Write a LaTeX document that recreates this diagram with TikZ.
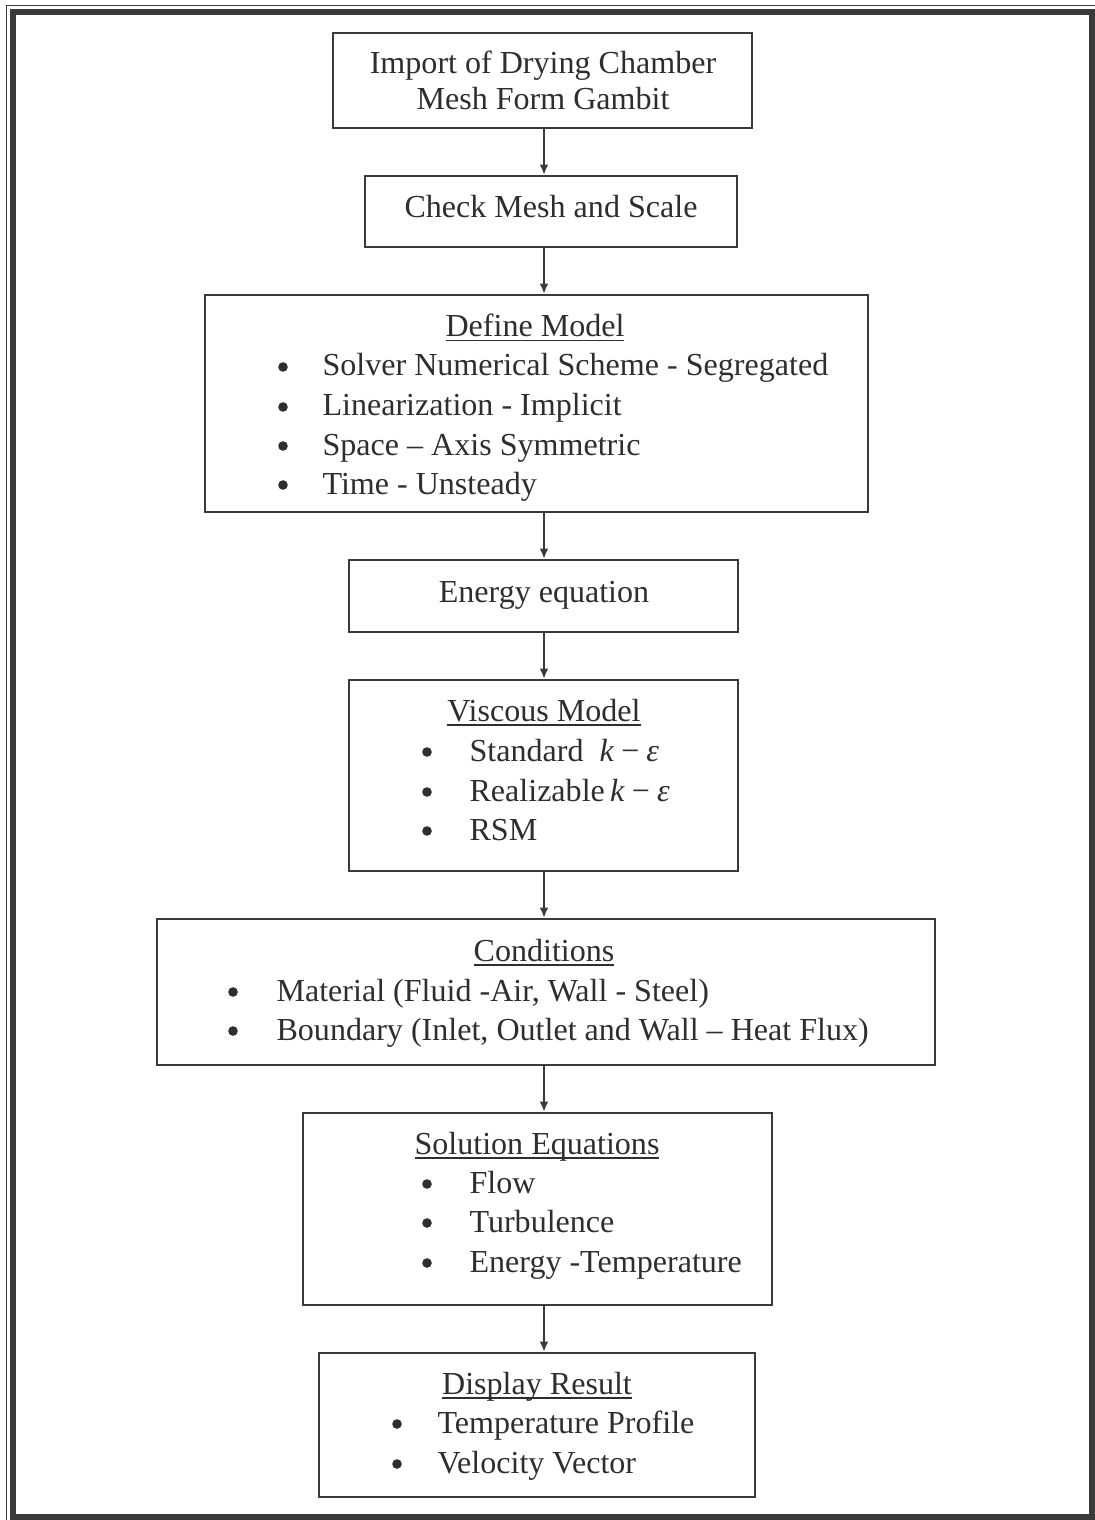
\documentclass[tikz,border=0pt]{standalone}
\usepackage{fontspec}
\setmainfont{Liberation Serif}
\usepackage{tikz}
\usetikzlibrary{fit,arrows.meta}

\definecolor{inchiostro}{HTML}{2E2E2E}
\definecolor{linea}{HTML}{3A3A3A}

% sottolineatura a profondita' fissa
\newcommand{\sottolinea}[1]{\setbox0\hbox{#1}\rlap{\rule[-1.6pt]{\wd0}{0.6pt}}\box0}
\newcommand{\keps}{\textit{k}\hspace{0.22em}\textminus\hspace{0.22em}\textit{ε}}

\begin{document}
\begin{tikzpicture}[x=0.0125cm, y=-0.0125cm,
  every node/.style={text=inchiostro, font=\fontsize{11.4}{13.7}\selectfont},
  box/.style={rectangle, draw=linea, line width=0.75pt, inner sep=0pt},
  titolo/.style={anchor=base},
  voce/.style={anchor=base west, inner sep=0pt},
  punto/.style={circle, fill=inchiostro, inner sep=0pt, minimum size=0.12cm},
  freccia/.style={draw=linea, line width=0.75pt, -{Latex[length=1.3mm,width=1.1mm]}}]

\useasboundingbox (0,0) rectangle (1095,1520);

% cornice
\draw[linea, line width=0.3pt] (6,1520) -- (6,5) -- (1095,5);
\draw[linea, line width=1.8pt] (13,12) rectangle (1092,1517);

\coordinate (asse) at (544,0);

% blocchi
\node[box, fit={(333,33) (752,128)}] (import) {};
\node[box, fit={(365,176) (737,247)}] (check) {};
\node[box, fit={(205,295) (868,512)}] (model) {};
\node[box, fit={(349,560) (738,632)}] (energy) {};
\node[box, fit={(349,680) (738,871)}] (viscous) {};
\node[box, fit={(157,919) (935,1065)}] (cond) {};
\node[box, fit={(303,1113) (772,1305)}] (sol) {};
\node[box, fit={(319,1353) (755,1497)}] (display) {};

% testi
\node[titolo] (t1a) at (543,74) {Import of Drying Chamber};
\node[titolo] (t1b) at (543,110) {Mesh Form Gambit};
\node[titolo] (t2) at (551,218) {Check Mesh and Scale};

\node[titolo] (t3) at (535,337) {\sottolinea{Define Model}};
\node[punto] (b31) at (283,367) {};
\node[punto] (b32) at (283,407) {};
\node[punto] (b33) at (283,446) {};
\node[punto] (b34) at (283,485) {};
\node[voce] (v31) at (322,376) {Solver Numerical Scheme - Segregated};
\node[voce] (v32) at (322,416) {Linearization - Implicit};
\node[voce] (v33) at (322,455) {Space -- Axis Symmetric};
\node[voce] (v34) at (322,494) {Time - Unsteady};

\node[titolo] (t4) at (544,602) {Energy equation};

\node[titolo] (t5) at (544,721) {\sottolinea{Viscous Model}};
\node[punto] (b51) at (427,752) {};
\node[punto] (b52) at (427,792) {};
\node[punto] (b53) at (427,831) {};
\node[voce] (v51) at (469,761) {Standard\hspace{0.5em}\keps};
\node[voce] (v52) at (469,801) {Realizable\,\keps};
\node[voce] (v53) at (469,840) {RSM};

\node[titolo] (t6) at (544,961) {\sottolinea{Conditions}};
\node[punto] (b61) at (233,992) {};
\node[punto] (b62) at (233,1031) {};
\node[voce] (v61) at (276,1001) {Material (Fluid -Air, Wall - Steel)};
\node[voce] (v62) at (276,1040) {Boundary (Inlet, Outlet and Wall -- Heat Flux)};

\node[titolo] (t7) at (537,1154) {\sottolinea{Solution Equations}};
\node[punto] (b71) at (427,1184) {};
\node[punto] (b72) at (427,1223) {};
\node[punto] (b73) at (427,1263) {};
\node[voce] (v71) at (469,1193) {Flow};
\node[voce] (v72) at (469,1232) {Turbulence};
\node[voce] (v73) at (469,1272) {Energy -Temperature};

\node[titolo] (t8) at (537,1394) {\sottolinea{Display Result}};
\node[punto] (b81) at (397,1424) {};
\node[punto] (b82) at (397,1464) {};
\node[voce] (v81) at (437,1433) {Temperature Profile};
\node[voce] (v82) at (437,1473) {Velocity Vector};

% Archi
\draw[freccia] (asse |- import.south) -- (asse |- check.north);
\draw[freccia] (asse |- check.south) -- (asse |- model.north);
\draw[freccia] (asse |- model.south) -- (asse |- energy.north);
\draw[freccia] (asse |- energy.south) -- (asse |- viscous.north);
\draw[freccia] (asse |- viscous.south) -- (asse |- cond.north);
\draw[freccia] (asse |- cond.south) -- (asse |- sol.north);
\draw[freccia] (asse |- sol.south) -- (asse |- display.north);

\end{tikzpicture}
\end{document}
